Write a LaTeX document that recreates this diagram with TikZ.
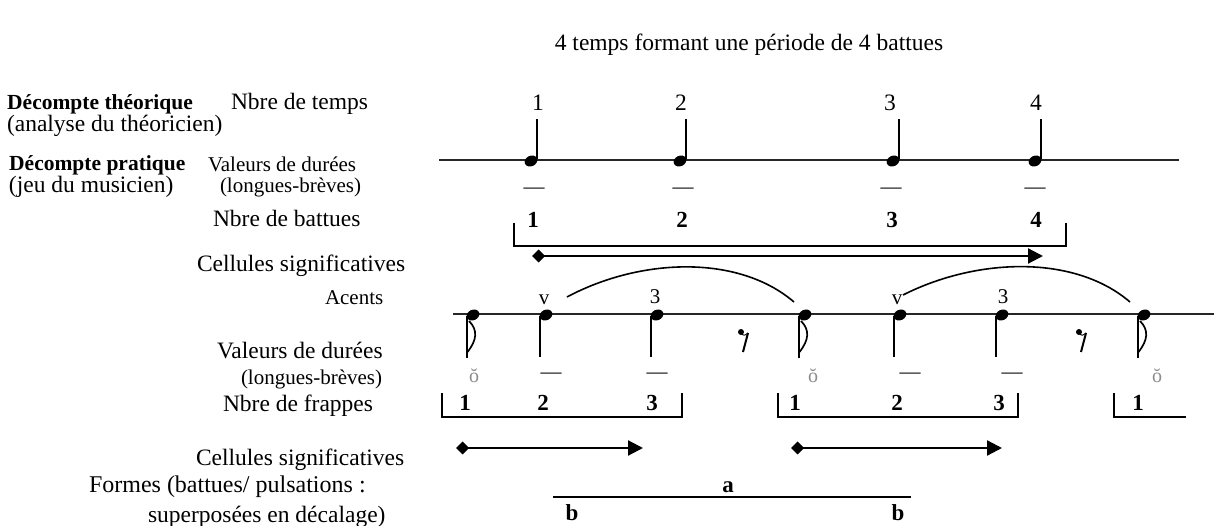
\documentclass[tikz,border=0pt]{standalone}
\usepackage{fontspec}
\setmainfont{Liberation Serif}
\usetikzlibrary{arrows.meta}
\tikzset{
  big/.style={font=\fontsize{23.5}{28}\selectfont, inner sep=0pt, outer sep=0pt},
  small/.style={font=\fontsize{21}{25}\selectfont, inner sep=0pt, outer sep=0pt},
  lab/.style={big, anchor=base west},
  slab/.style={small, anchor=base west},
  blab/.style={font=\fontsize{21.5}{26}\selectfont\bfseries, inner sep=0pt, anchor=base west},
  bnum/.style={font=\fontsize{23}{28}\selectfont\bfseries, inner sep=0pt, anchor=base},
  num/.style={big, anchor=base},
  accmark/.style={small, anchor=base},
  dashsym/.style={font=\fontsize{21}{25}\selectfont, inner sep=0pt, anchor=base},
  brevesym/.style={font=\fontsize{20}{24}\selectfont, text=black!45, inner sep=0pt, anchor=base},
  staff/.style={line width=2pt, black!85},
  stemline/.style={line width=1.5pt},
  bracketline/.style={line width=1.6pt},
  flagline/.style={line width=1.7pt},
  arcline/.style={line width=1.6pt},
  cellarrow/.style={line width=2.2pt, {Diamond[length=13pt,width=13pt]}-{Triangle[length=15pt,width=15pt]}},
  nh/.pic={\fill[rotate=25] (0,0) ellipse [x radius=6.6, y radius=5.2];},
}
\begin{document}
\begin{tikzpicture}[x=1pt,y=-1pt]
\useasboundingbox (0,0) rectangle (1216,526);

% title
\node[num] (title) at (749,51) {4 temps formant une période de 4 battues};

% left labels
\node[blab] (dth) at (7,110) {Décompte théorique};
\node[lab] (ntemps) at (231,110) {Nbre de temps};
\node[lab] (anth) at (7,132) {(analyse du théoricien)};
\node[blab] (dpr) at (9,171) {Décompte pratique};
\node[lab] (jeu) at (9,193) {(jeu du musicien)};
\node[slab] (val1) at (208,172) {Valeurs de durées};
\node[slab] (lb1) at (220,193) {(longues-brèves)};
\node[lab] (nbat) at (213,227) {Nbre de battues};
\node[lab] (cel1) at (197,272) {Cellules significatives};
\node[slab] (acc) at (325,305) {Acents};
\node[lab] (val2) at (217,359) {Valeurs de durées};
\node[slab] (lb2) at (241,385) {(longues-brèves)};
\node[lab] (nfr) at (223,412) {Nbre de frappes};
\node[lab] (cel2) at (196,466) {Cellules significatives};
\node[lab, font=\fontsize{24}{28}\selectfont] (form1) at (89,493) {Formes (battues/ pulsations :};
\node[lab] (form2) at (148,522) {superposées en décalage)};

% beat numbers
\node[num] (t1) at (538,111) {1};
\node[num] (t2) at (681,111) {2};
\node[num] (t3) at (890,111) {3};
\node[num] (t4) at (1036,111) {4};

% top staff
\coordinate (s1a) at (439,160);
\coordinate (s1b) at (1179,160);
\draw[staff] (s1a) -- (s1b);
\foreach \x in {531,680,893,1035}{
  \pic at (\x,161) {nh};
  \draw[stemline] (\x+5.8,159) -- (\x+5.8,119);
}
\node[dashsym] (d1) at (534,194) {—};
\node[dashsym] (d2) at (683,194) {—};
\node[dashsym] (d3) at (891,194) {—};
\node[dashsym] (d4) at (1035,194) {—};

\node[bnum] (b1) at (533,228) {1};
\node[bnum] (b2) at (682,228) {2};
\node[bnum] (b3) at (892,228) {3};
\node[bnum] (b4) at (1036,228) {4};

% battues bracket
\coordinate (br1a) at (514,223);
\coordinate (br1b) at (514,246);
\coordinate (br1c) at (1066,246);
\coordinate (br1d) at (1066,223);
\draw[bracketline] (br1a) -- (br1b) -- (br1c) -- (br1d);

% top arrow
\coordinate (ar0a) at (532,256);
\coordinate (ar0b) at (1043,256);
\draw[cellarrow] (ar0a) -- (ar0b);

% arcs
\coordinate (arc1a) at (567,297);
\coordinate (arc1b) at (794,302);
\draw[arcline] (arc1a) .. controls (640,258) and (738,254) .. (arc1b);
\coordinate (arc2a) at (903,295);
\coordinate (arc2b) at (1130,302);
\draw[arcline] (arc2a) .. controls (976,258) and (1074,254) .. (arc2b);

% second staff
\coordinate (s2a) at (453,314);
\coordinate (s2b) at (1214,314);
\draw[staff] (s2a) -- (s2b);

% eighth notes with flag (stem down)
\foreach \x in {473,805,1144}{
  \pic at (\x,315) {nh};
  \draw[stemline] (\x-6,316) -- (\x-6,358);
  \draw[flagline] (\x-4,321) .. controls (\x+5,330) and (\x+4,340) .. (\x-5.5,352);
}
% quarter notes (stem down)
\foreach \x in {546,657,900,1002}{
  \pic at (\x,315) {nh};
  \draw[stemline] (\x-6,316) -- (\x-6,357);
}
% eighth rests
\foreach \x in {742,1080}{
  \fill (\x-1,332) circle (3);
  \draw[line width=0.9pt] (\x-1,333) .. controls (\x+2,336) .. (\x+6,333);
  \draw[line width=2pt] (\x+6,333) -- (\x+1,352);
}

\node[accmark] (v1) at (544,305) {v};
\node[accmark] (th1) at (655,304) {3};
\node[accmark] (v2) at (897,305) {v};
\node[accmark] (th2) at (1003,304) {3};

\node[brevesym] (o1) at (474,383) {ŏ};
\node[brevesym] (o2) at (813,383) {ŏ};
\node[brevesym] (o3) at (1157,383) {ŏ};

\node[dashsym] (e1) at (551,379) {—};
\node[dashsym] (e2) at (657,379) {—};
\node[dashsym] (e3) at (910,379) {—};
\node[dashsym] (e4) at (1012,379) {—};

% frappes
\node[bnum] (f1) at (465,411) {1};
\node[bnum] (f2) at (543,411) {2};
\node[bnum] (f3) at (652,411) {3};
\node[bnum] (f4) at (795,411) {1};
\node[bnum] (f5) at (897,411) {2};
\node[bnum] (f6) at (999,411) {3};
\node[bnum] (f7) at (1138,411) {1};

\draw[bracketline] (442,393) -- (442,417) -- (682,417) -- (682,393);
\draw[bracketline] (778,393) -- (778,417) -- (1018,417) -- (1018,393);
\draw[bracketline] (1114,393) -- (1114,417) -- (1186,417);

% cell arrows
\coordinate (ar1a) at (456,448);
\coordinate (ar1b) at (643,448);
\draw[cellarrow] (ar1a) -- (ar1b);
\coordinate (ar2a) at (791,448);
\coordinate (ar2b) at (1002,448);
\draw[cellarrow] (ar2a) -- (ar2b);

% forms
\coordinate (fa) at (553,497);
\coordinate (fb) at (911,497);
\draw[line width=2pt] (fa) -- (fb);
\node[bnum] (la) at (728,493) {a};
\node[bnum] (lbb1) at (572,520) {b};
\node[bnum] (lbb2) at (898,520) {b};
\end{tikzpicture}
\end{document}
